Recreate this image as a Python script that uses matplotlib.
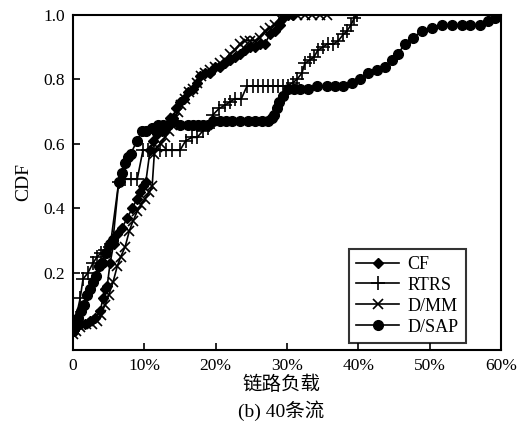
import matplotlib
matplotlib.use("Agg")
import matplotlib.pyplot as plt

plt.rcParams['font.family'] = ['Liberation Serif', 'Noto Sans CJK SC']

# Link load (%) and CDF for each scheme, 40 flows
cf_x = [0.0, 0.4, 1.0, 1.7, 2.4, 3.1, 3.8, 4.2, 4.5, 4.8, 5.2, 5.7, 6.2, 6.9, 7.6, 8.3,
        9.0, 9.4, 9.8, 10.2, 10.8, 11.2, 11.8, 12.5, 13.0, 13.6, 14.0, 14.4, 15.0, 15.6,
        16.1, 16.8, 17.4, 17.8, 18.5, 19.2, 19.9, 20.6, 21.3, 22.0, 22.7, 23.4, 24.1,
        24.8, 25.5, 26.2, 26.9, 27.6, 28.3, 29.0, 29.4, 30.1, 30.8]
cf_y = [0.02, 0.03, 0.04, 0.04, 0.05, 0.06, 0.08, 0.12, 0.15, 0.16, 0.23, 0.29, 0.32, 0.34,
        0.37, 0.40, 0.43, 0.45, 0.47, 0.48, 0.58, 0.61, 0.63, 0.64, 0.65, 0.68, 0.68, 0.71,
        0.73, 0.74, 0.76, 0.77, 0.79, 0.81, 0.82, 0.82, 0.84, 0.84, 0.85, 0.86, 0.87, 0.88,
        0.89, 0.90, 0.90, 0.91, 0.91, 0.94, 0.95, 0.97, 0.99, 1.0, 1.0]

rtrs_x = [0.0, 0.4, 1.0, 1.4, 2.1, 2.8, 3.4, 3.9, 4.5, 5.2, 6.4, 7.3, 8.1, 9.0, 9.8, 10.5,
          11.4, 12.2, 13.0, 13.9, 15.0, 15.8, 16.7, 17.4, 18.2, 18.9, 19.6, 20.5, 21.3,
          22.0, 22.7, 23.6, 24.4, 25.2, 25.9, 26.6, 27.3, 28.0, 28.7, 29.4, 30.1, 30.8,
          31.4, 32.1, 32.5, 33.2, 33.8, 34.3, 35.0, 35.7, 36.5, 37.2, 37.9, 38.4, 39.0,
          39.4, 39.8]
rtrs_y = [0.02, 0.06, 0.12, 0.18, 0.20, 0.23, 0.25, 0.26, 0.27, 0.28, 0.48, 0.49, 0.49,
          0.49, 0.58, 0.58, 0.58, 0.58, 0.58, 0.58, 0.58, 0.61, 0.62, 0.62, 0.64, 0.65,
          0.69, 0.71, 0.72, 0.73, 0.74, 0.74, 0.78, 0.78, 0.78, 0.78, 0.78, 0.78, 0.78,
          0.78, 0.78, 0.79, 0.80, 0.82, 0.85, 0.86, 0.87, 0.89, 0.90, 0.91, 0.91, 0.92,
          0.94, 0.95, 0.97, 0.99, 1.0]

dmm_x = [0.0, 0.4, 1.0, 1.8, 2.7, 3.4, 3.9, 4.5, 5.0, 5.6, 6.2, 6.7, 7.3, 7.9, 8.4, 9.0,
         9.5, 10.1, 10.7, 11.1, 11.4, 11.8, 12.3, 12.9, 13.5, 13.9, 14.3, 14.7, 15.1,
         15.7, 16.3, 16.8, 17.4, 17.9, 18.5, 19.2, 19.9, 20.6, 21.3, 22.0, 22.7, 23.4,
         24.1, 24.8, 25.5, 26.2, 26.9, 27.6, 28.3, 29.0, 30.1, 31.4, 32.5, 33.5, 34.6, 35.6]
dmm_y = [0.01, 0.02, 0.03, 0.04, 0.04, 0.05, 0.07, 0.10, 0.13, 0.17, 0.22, 0.25, 0.28,
         0.33, 0.36, 0.39, 0.41, 0.43, 0.45, 0.47, 0.57, 0.59, 0.60, 0.62, 0.64, 0.66,
         0.68, 0.70, 0.72, 0.74, 0.76, 0.77, 0.79, 0.81, 0.82, 0.83, 0.84, 0.85, 0.86,
         0.88, 0.89, 0.91, 0.92, 0.92, 0.92, 0.93, 0.95, 0.96, 0.97, 0.99, 1.0, 1.0, 1.0,
         1.0, 1.0, 1.0]

dsap_x = [0.0, 0.3, 0.7, 1.1, 1.5, 2.0, 2.4, 2.8, 3.2, 3.6, 4.1, 4.6, 5.2, 5.6, 6.4, 6.9,
          7.3, 7.7, 8.1, 9.0, 9.7, 10.2, 11.1, 11.9, 12.6, 13.3, 14.0, 15.0, 16.1, 16.8,
          17.5, 18.2, 18.9, 19.6, 20.6, 21.4, 22.3, 23.4, 24.5, 25.5, 26.5, 27.3, 27.9,
          28.2, 28.6, 28.9, 29.4, 30.1, 31.0, 31.8, 32.9, 34.2, 35.6, 36.7, 37.9, 39.1,
          40.2, 41.4, 42.6, 43.7, 44.7, 45.6, 46.5, 47.7, 48.9, 50.3, 51.7, 53.1, 54.5,
          55.7, 57.1, 58.2, 59.2, 59.9]
dsap_y = [0.02, 0.03, 0.06, 0.08, 0.10, 0.13, 0.15, 0.17, 0.19, 0.22, 0.23, 0.26, 0.29,
          0.30, 0.48, 0.51, 0.54, 0.56, 0.57, 0.61, 0.64, 0.64, 0.65, 0.66, 0.66, 0.66,
          0.67, 0.66, 0.66, 0.66, 0.66, 0.66, 0.66, 0.67, 0.67, 0.67, 0.67, 0.67, 0.67,
          0.67, 0.67, 0.67, 0.68, 0.69, 0.71, 0.73, 0.75, 0.77, 0.77, 0.77, 0.77, 0.78,
          0.78, 0.78, 0.78, 0.79, 0.80, 0.82, 0.83, 0.84, 0.86, 0.88, 0.91, 0.93, 0.95,
          0.96, 0.97, 0.97, 0.97, 0.97, 0.97, 0.98, 0.99, 1.0]

x_ticks = [0, 10, 20, 30, 40, 50, 60]
x_tick_labels = ['0', '10%', '20%', '30%', '40%', '50%', '60%']
y_ticks = [0.2, 0.4, 0.6, 0.8, 1.0]
y_tick_labels = ['0.2', '0.4', '0.6', '0.8', '1.0']

fig = plt.figure(figsize=(5.31, 4.28), dpi=100)
ax = fig.add_axes([0.1375, 0.1822, 0.806, 0.7828])

lw = 1.2
ax.plot(cf_x, cf_y, color='black', lw=lw, marker='D', ms=5, label='CF')
ax.plot(rtrs_x, rtrs_y, color='black', lw=lw, marker='+', ms=10, mew=1.2, label='RTRS')
ax.plot(dmm_x, dmm_y, color='black', lw=lw, marker='x', ms=7, mew=1.2, label='D/MM')
ax.plot(dsap_x, dsap_y, color='black', lw=lw, marker='o', ms=7, label='D/SAP')

ax.set_xlim(0, 60)
ax.set_ylim(-0.04, 1.0)
ax.set_xticks(x_ticks)
ax.set_xticklabels(x_tick_labels)
ax.set_yticks(y_ticks)
ax.set_yticklabels(y_tick_labels)
ax.tick_params(direction='in', length=5, width=1.2, labelsize=12.5, pad=6)
for s in ax.spines.values():
    s.set_linewidth(1.5)

ax.set_ylabel('CDF', fontsize=14, labelpad=8)

leg = ax.legend(loc='lower right', bbox_to_anchor=(0.918, 0.021), borderaxespad=0,
                fontsize=13, frameon=True, fancybox=False, labelspacing=0.22,
                handlelength=2.4, handletextpad=0.45, borderpad=0.4)
leg.get_frame().set_edgecolor('black')
leg.get_frame().set_linewidth(1.5)

fig.text(0.53, 0.1, '链路负载', ha='center', va='center', fontsize=14)
fig.text(0.53, 0.04, '(b) 40条流', ha='center', va='center', fontsize=14)

fig.savefig('out.png', dpi=100)
